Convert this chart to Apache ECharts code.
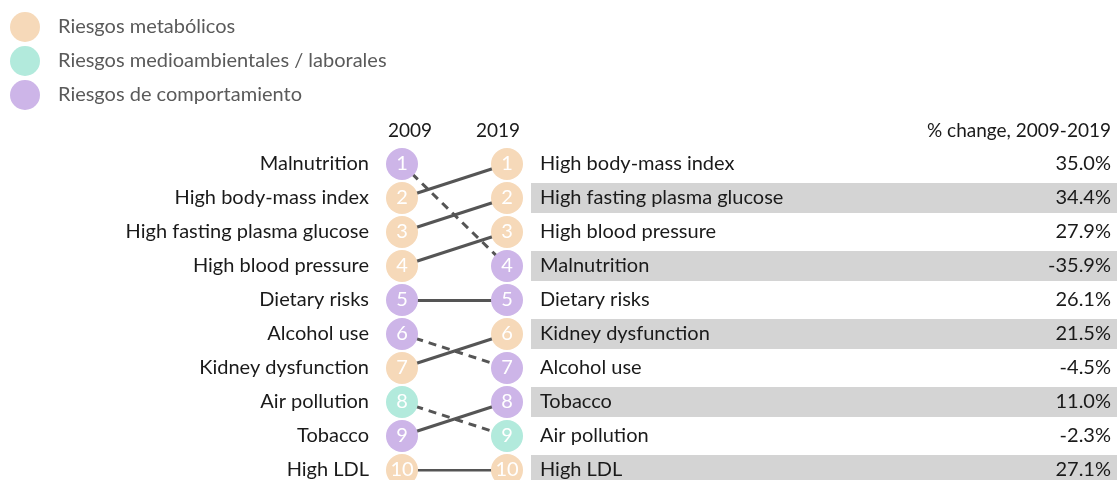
<!DOCTYPE html>
<html>
<head>
<meta charset="utf-8">
<style>
  html, body { margin: 0; padding: 0; background: #fff; }
  #chart { width: 1117px; height: 480px; }
</style>
<script src="https://cdn.jsdelivr.net/npm/echarts@6/dist/echarts.min.js"></script>
</head>
<body>
<div id="chart"></div>
<script>
// Risk factors, listed in their 2009 ranking order
const risks = ['Malnutrition', 'High body-mass index', 'High fasting plasma glucose', 'High blood pressure',
  'Dietary risks', 'Alcohol use', 'Kidney dysfunction', 'Air pollution', 'Tobacco', 'High LDL'];
// Group of each risk: 0 metabolic, 1 environmental / occupational, 2 behavioural
const riskGroup = [2, 0, 0, 0, 2, 2, 0, 1, 2, 0];
const rank2009 = [1, 2, 3, 4, 5, 6, 7, 8, 9, 10];
const rank2019 = [4, 1, 2, 3, 5, 7, 6, 9, 8, 10];
// % change 2009-2019 for each risk
const pctChange = [-35.9, 35.0, 34.4, 27.9, 26.1, -4.5, 21.5, -2.3, 11.0, 27.1];

const groupNames = ['Riesgos metabólicos', 'Riesgos medioambientales / laborales', 'Riesgos de comportamiento'];
const groupColors = ['#f6d9b9', '#b2eadc', '#cdb5e8'];
const yearLabels = ['2009', '2019'];
const changeTitle = '% change, 2009-2019';

const FONT = 'Lato';

// Names and changes in 2019 order
const order2019 = risks.map((_, i) => i).sort((a, b) => rank2019[a] - rank2019[b]);
const names2019 = order2019.map(i => risks[i]);
const pct2019 = order2019.map(i => pctChange[i]);

// Bubbles per group: x 0 = 2009, x 1 = 2019, y = rank index
const scatterSeries = groupNames.map((g, gi) => {
  const data = [];
  risks.forEach((r, i) => {
    if (riskGroup[i] !== gi) return;
    data.push({ value: [0, rank2009[i] - 1], rank: rank2009[i] });
    data.push({ value: [1, rank2019[i] - 1], rank: rank2019[i] });
  });
  return {
    name: g, type: 'scatter', xAxisIndex: 0, yAxisIndex: 0,
    symbol: 'circle', symbolSize: 32, z: 5,
    itemStyle: { color: groupColors[gi], opacity: 1 },
    label: {
      show: true, position: 'inside', color: '#fff', fontFamily: FONT, fontSize: 20,
      padding: [3, 0, 0, 0],
      formatter: p => String(p.data.rank)
    },
    emphasis: { disabled: true },
    data
  };
});

// Connectors: solid when the rank held or improved, dashed when it dropped
const linkData = risks.map((r, i) => ({
  coords: [[0, rank2009[i] - 1], [1, rank2019[i] - 1]],
  lineStyle: { type: rank2019[i] > rank2009[i] ? [8, 6] : 'solid' }
}));

const hiddenAxis = { axisLine: { show: false }, axisTick: { show: false }, splitLine: { show: false } };
const rowText = { color: '#1a1a1a', fontSize: 20, fontFamily: FONT, padding: [4, 0, 0, 0] };

const option = {
  animation: false,
  backgroundColor: '#fff',
  textStyle: { fontFamily: FONT },
  legend: {
    orient: 'vertical', left: 10, top: 12, padding: 0,
    itemWidth: 30, itemHeight: 30, itemGap: 4, icon: 'circle',
    selectedMode: false,
    textStyle: { color: '#5a5a5a', fontSize: 20, fontFamily: FONT, padding: [2, 0, 0, 13] },
    data: groupNames
  },
  grid: [
    { left: 402, width: 105, top: 164, height: 306 },
    { left: 531, right: 0, top: 164, height: 306 }
  ],
  xAxis: [
    { gridIndex: 0, type: 'value', min: 0, max: 1, show: false },
    { gridIndex: 1, type: 'value', min: 0, max: 1, show: false }
  ],
  yAxis: [
    {
      gridIndex: 0, type: 'category', inverse: true, boundaryGap: false,
      data: risks, ...hiddenAxis,
      axisLabel: { margin: 33, ...rowText }
    },
    {
      gridIndex: 1, type: 'category', inverse: true, boundaryGap: false, z: 5,
      data: names2019, ...hiddenAxis,
      axisLabel: { inside: true, margin: 9, ...rowText }
    },
    {
      gridIndex: 1, type: 'category', inverse: true, boundaryGap: false, position: 'right', z: 5,
      data: pct2019, ...hiddenAxis,
      axisLabel: {
        inside: true, margin: 6, ...rowText,
        formatter: v => Number(v).toFixed(1) + '%'
      }
    }
  ],
  graphic: [
    { type: 'text', left: 388, top: 121, style: { text: yearLabels[0], fontSize: 19, fontFamily: FONT, fill: '#1a1a1a' } },
    { type: 'text', left: 476, top: 121, style: { text: yearLabels[1], fontSize: 19, fontFamily: FONT, fill: '#1a1a1a' } },
    { type: 'text', right: 6, top: 121, style: { text: changeTitle, fontSize: 19, fontFamily: FONT, fill: '#1a1a1a', align: 'right' } }
  ],
  series: [
    {
      type: 'lines', coordinateSystem: 'cartesian2d', xAxisIndex: 0, yAxisIndex: 0, z: 2,
      lineStyle: { color: '#555', width: 3, opacity: 1 },
      silent: true,
      data: linkData
    },
    ...scatterSeries,
    {
      type: 'bar', xAxisIndex: 1, yAxisIndex: 1, z: 1, barWidth: 30, silent: true,
      itemStyle: { color: '#d4d4d4' },
      data: names2019.map((_, k) => (k % 2 === 1 ? 1 : '-'))
    }
  ]
};

echarts.init(document.getElementById('chart'), null, { renderer: 'canvas' }).setOption(option);
</script>
</body>
</html>
